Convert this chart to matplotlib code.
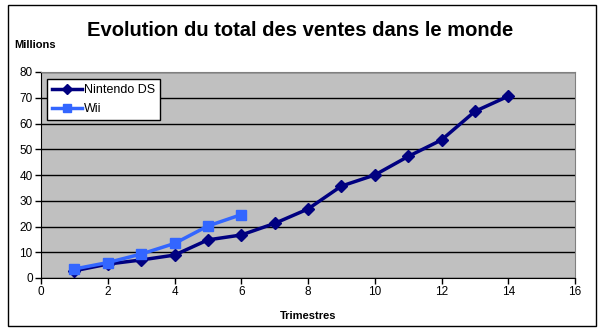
import matplotlib
matplotlib.use("Agg")
import matplotlib.pyplot as plt
from matplotlib.patches import Rectangle

plt.rcParams['font.family'] = ['Liberation Sans', 'DejaVu Sans']

title = "Evolution du total des ventes dans le monde"
ds_x = [1, 2, 3, 4, 5, 6, 7, 8, 9, 10, 11, 12, 13, 14]
ds_y = [2.8, 5.4, 7.0, 8.9, 14.8, 16.7, 21.2, 26.8, 35.7, 40.0, 47.2, 53.6, 64.7, 70.6]
wii_x = [1, 2, 3, 4, 5, 6]
wii_y = [3.5, 6.0, 9.3, 13.4, 20.2, 24.6]
xticks = [0, 2, 4, 6, 8, 10, 12, 14, 16]
yticks = [0, 10, 20, 30, 40, 50, 60, 70, 80]

fig = plt.figure(figsize=(6.0, 3.31), dpi=100)
fig.patches.append(Rectangle((8/600, 1-326/331), 588/600, 321/331, transform=fig.transFigure,
                             fill=False, edgecolor='black', linewidth=1))
ax = fig.add_axes([41/600, 1-278/331, 534/600, 206/331])
ax.set_facecolor('#C0C0C0')
ax.set_xlim(0, 16)
ax.set_ylim(0, 80)
ax.set_xticks(xticks)
ax.set_yticks(yticks)
ax.yaxis.grid(True, color='black', linewidth=1)
ax.set_axisbelow(True)
for s in ['top', 'right']:
    ax.spines[s].set_color('#808080')
for s in ['left', 'bottom']:
    ax.spines[s].set_color('black')
ax.tick_params(axis='both', direction='out', length=4, width=1, labelsize=8.5, colors='black', pad=2)

ax.plot(ds_x, ds_y, color='#000080', linewidth=2.5, marker='D', markersize=6.5, label='Nintendo DS', zorder=3)
ax.plot(wii_x, wii_y, color='#3366FF', linewidth=2.5, marker='s', markersize=7.5, label='Wii', zorder=4)

leg = ax.legend(loc='upper left', bbox_to_anchor=(6/534, 1-7/206), fontsize=9, frameon=True, fancybox=False,
                edgecolor='black', facecolor='white', framealpha=1, borderpad=0.4, labelspacing=0.55,
                handlelength=2.4, handletextpad=0.15, borderaxespad=0, markerscale=0.8)
leg.get_frame().set_linewidth(1)

fig.text(300/600, 1-30/331, title, ha='center', va='center', fontsize=14.5, fontweight='bold')
fig.text(14/600, 1-45/331, "Millions", ha='left', va='center', fontsize=8, fontweight='bold')
fig.text(308/600, 1-316/331, "Trimestres", ha='center', va='center', fontsize=8, fontweight='bold')

fig.savefig('out.png', dpi=100)
